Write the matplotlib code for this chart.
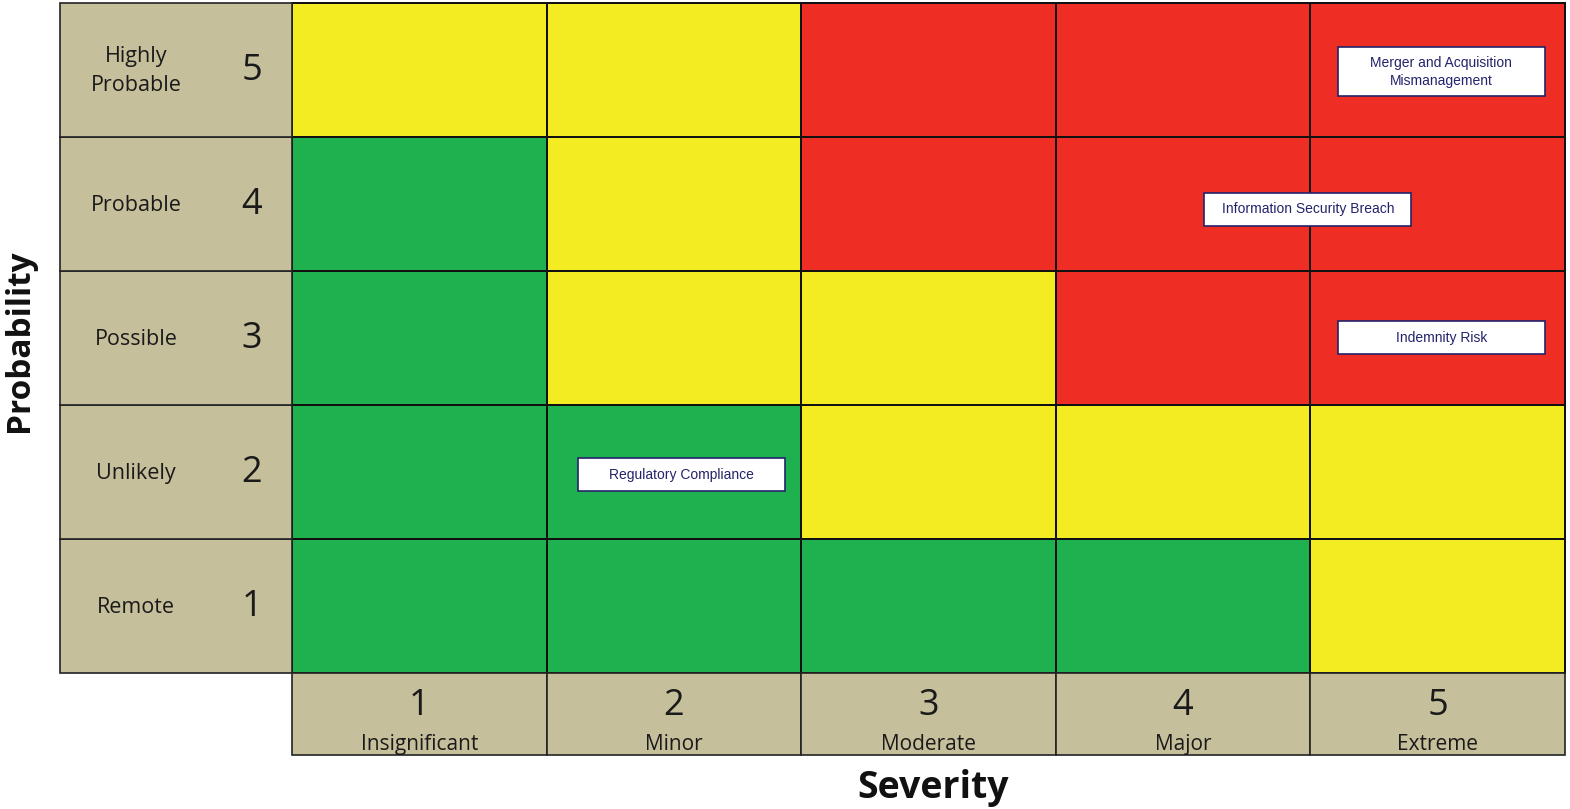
import numpy as np
import matplotlib.pyplot as plt
from matplotlib.colors import ListedColormap
from matplotlib.patches import Rectangle

severity = [1, 2, 3, 4, 5]
severity_labels = ["Insignificant", "Minor", "Moderate", "Major", "Extreme"]
probability = [1, 2, 3, 4, 5]
probability_labels = ["Remote", "Unlikely", "Possible", "Probable", "Highly\nProbable"]

# rows = probability 1..5, cols = severity 1..5 ; 0 low, 1 medium, 2 high
risk_level = [
    [0, 0, 0, 0, 1],
    [0, 0, 1, 1, 1],
    [0, 1, 1, 2, 2],
    [0, 1, 2, 2, 2],
    [1, 1, 2, 2, 2],
]

risk_names = ["Regulatory Compliance", "Information Security Breach",
              "Indemnity Risk", "Merger and Acquisition\nMismanagement"]
risk_severity = [2.03, 4.49, 5.015, 5.015]
risk_probability = [1.98, 3.96, 3.0, 4.985]

GREEN = "#1fb14f"
YELLOW = "#f4ec22"
RED = "#ee2e25"
TAN = "#c6bf9b"
NAVY = "#23236b"
LABEL_FONT = "Open Sans"

fig = plt.figure(figsize=(15.7, 8.09), dpi=100)
ax = fig.add_axes([0, 0, 1, 1])
ax.set_xlim(-0.647, 5.520)
ax.set_ylim(-0.515, 5.522)
ax.axis("off")

# heat map cells
x_edges = np.arange(0.5, len(severity) + 1)
y_edges = np.arange(0.5, len(probability) + 1)
cmap = ListedColormap([GREEN, YELLOW, RED])
ax.pcolormesh(x_edges, y_edges, np.array(risk_level), cmap=cmap, vmin=-0.5, vmax=2.5,
              edgecolors="#111111", linewidth=1.2)

# probability column on the left
col_left, col_w = -0.411, 0.911
for p, lab in zip(probability, probability_labels):
    ax.add_patch(Rectangle((col_left, p - 0.5), col_w, 1, facecolor=TAN,
                           edgecolor="#222222", lw=1.2))
    ax.text(-0.113, p - 0.01, lab, ha="center", va="center", fontsize=15.5,
            family=LABEL_FONT, color="#1a1a1a", linespacing=1.5)
    ax.text(0.343, p - 0.01, str(p), ha="center", va="center", fontsize=26,
            family=LABEL_FONT, color="#1a1a1a")

# severity row at the bottom
row_bot, row_h = -0.112, 0.612
for s, lab in zip(severity, severity_labels):
    ax.add_patch(Rectangle((s - 0.5, row_bot), 1, row_h, facecolor=TAN,
                           edgecolor="#222222", lw=1.2))
    ax.text(s, 0.25, str(s), ha="center", va="center", fontsize=26,
            family=LABEL_FONT, color="#1a1a1a")
    ax.text(s, -0.035, lab, ha="center", va="center", fontsize=15,
            family=LABEL_FONT, color="#1a1a1a")

# risk boxes
box_w = 0.813
for name, sx, py in zip(risk_names, risk_severity, risk_probability):
    bh = 0.366 if "\n" in name else 0.246
    ax.add_patch(Rectangle((sx - box_w / 2, py - bh / 2), box_w, bh, facecolor="white",
                           edgecolor=NAVY, lw=1.2, zorder=5))
    ax.text(sx, py, name, ha="center", va="center", fontsize=10,
            family="Liberation Sans", color=NAVY, zorder=6, linespacing=1.3)

ax.text(-0.572, 2.98, "Probability", rotation=90, ha="center", va="center",
        fontsize=24, fontweight="bold", family=LABEL_FONT, color="#111111")
ax.text(3.02, -0.36, "Severity", ha="center", va="center",
        fontsize=27, fontweight="bold", family=LABEL_FONT, color="#111111")

fig.savefig("out.png", dpi=100, facecolor="white")
